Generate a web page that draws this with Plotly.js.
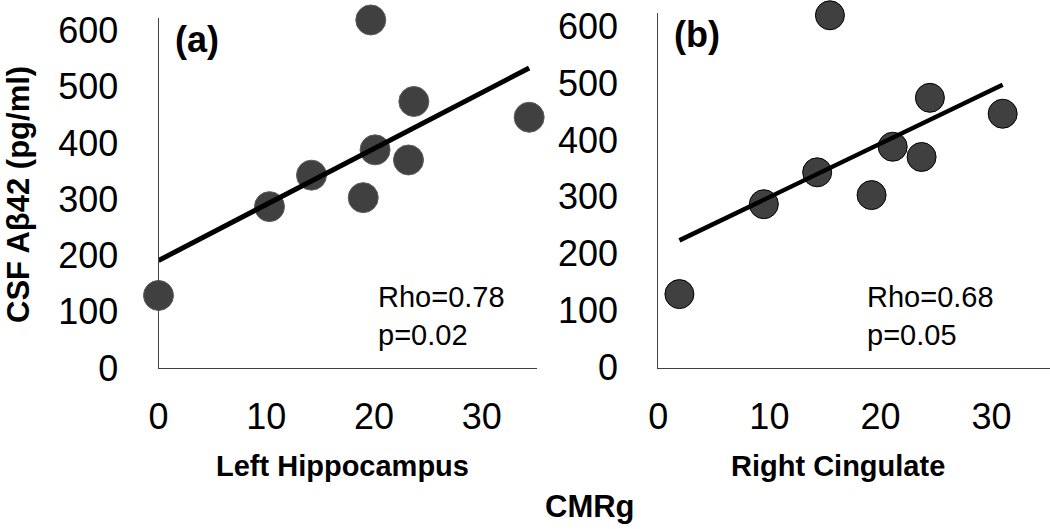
<!DOCTYPE html>
<html>
<head>
<meta charset="utf-8">
<script src="https://cdn.plot.ly/plotly-3.0.1.min.js"></script>
<style>html,body{margin:0;padding:0;background:#fff;}#chart{width:1050px;height:529px;}</style>
</head>
<body>
<div id="chart"></div>
<script>
// Data
const csfAbeta42 = [129, 287, 343, 303, 619, 388, 370, 474, 446];
const leftHippocampus = [0, 10.3, 14.2, 19.0, 19.7, 20.1, 23.2, 23.7, 34.4];
const rightCingulate = [1.9, 9.5, 14.3, 19.2, 15.45, 21.1, 23.7, 24.45, 31.0];
const yTicks = [0, 100, 200, 300, 400, 500, 600];
const xTicks = [0, 10, 20, 30];
const panelLabels = ['(a)', '(b)'];
const statsA = ['Rho=0.78', 'p=0.02'];
const statsB = ['Rho=0.68', 'p=0.05'];
const xTitles = ['Left Hippocampus', 'Right Cingulate'];
const yTitle = 'CSF Aβ42 (pg/ml)';
const commonXTitle = 'CMRg';

// Least-squares trendline over the data range (as in the original spreadsheet chart)
function trend(xs, ys) {
  const n = xs.length;
  const mx = xs.reduce((a, b) => a + b, 0) / n;
  const my = ys.reduce((a, b) => a + b, 0) / n;
  let sxy = 0, sxx = 0;
  for (let i = 0; i < n; i++) { sxy += (xs[i] - mx) * (ys[i] - my); sxx += (xs[i] - mx) ** 2; }
  const b = sxy / sxx, a = my - b * mx;
  const x0 = Math.min(...xs), x1 = Math.max(...xs);
  return { x: [x0, x1], y: [a + b * x0, a + b * x1] };
}

const W = 1050, H = 529;
const px = v => v / W;
const py = v => 1 - v / H;
const FONT = 'Liberation Sans, Arial, sans-serif';

const tA = trend(leftHippocampus, csfAbeta42);
const tB = trend(rightCingulate, csfAbeta42);

const traces = [
  { type: 'scatter', mode: 'markers', x: leftHippocampus, y: csfAbeta42, xaxis: 'x', yaxis: 'y',
    cliponaxis: false,
    marker: { size: 30, color: '#404040', line: { color: '#5c5c5c', width: 1 } } },
  { type: 'scatter', mode: 'lines', x: tA.x, y: tA.y, xaxis: 'x', yaxis: 'y', cliponaxis: false,
    line: { color: '#000000', width: 5 } },
  { type: 'scatter', mode: 'markers', x: rightCingulate, y: csfAbeta42, xaxis: 'x2', yaxis: 'y2',
    cliponaxis: false,
    marker: { size: 29, color: '#404040', line: { color: '#000000', width: 1 } } },
  { type: 'scatter', mode: 'lines', x: tB.x, y: tB.y, xaxis: 'x2', yaxis: 'y2', cliponaxis: false,
    line: { color: '#000000', width: 4.5 } }
];

const xAxisBase = {
  tickvals: xTicks, ticktext: xTicks.map(String), ticks: '', showgrid: false, zeroline: false,
  showline: true, linecolor: '#404040', linewidth: 1,
  tickfont: { family: FONT, size: 36, color: '#000' }, ticklabelstandoff: 17, fixedrange: true
};
const yAxisBase = {
  tickvals: yTicks, ticktext: yTicks.map(String), ticks: '', showgrid: false, zeroline: false,
  showline: true, linecolor: '#404040', linewidth: 1,
  tickfont: { family: FONT, size: 36, color: '#000' }, ticklabelstandoff: 32, fixedrange: true
};

const layout = {
  width: W, height: H,
  margin: { l: 0, r: 0, t: 0, b: 0 },
  paper_bgcolor: '#ffffff', plot_bgcolor: '#ffffff',
  showlegend: false,
  xaxis: Object.assign({}, xAxisBase, { domain: [px(158.5), px(536.7)], range: [0, 35.1], anchor: 'y' }),
  yaxis: Object.assign({}, yAxisBase, { domain: [py(368), py(18.3)], range: [0, 622], anchor: 'x' }),
  xaxis2: Object.assign({}, xAxisBase, { domain: [px(658.3), 1], range: [0, 35.26], anchor: 'y2' }),
  yaxis2: Object.assign({}, yAxisBase, { domain: [py(367.5), py(13.3)], range: [0, 622.5], anchor: 'x2' }),
  annotations: [
    { xref: 'paper', yref: 'paper', x: px(197), y: py(39), xanchor: 'center', yanchor: 'middle', showarrow: false,
      text: '<b>' + panelLabels[0] + '</b>', font: { family: FONT, size: 36, color: '#000' } },
    { xref: 'paper', yref: 'paper', x: px(696.5), y: py(35), xanchor: 'center', yanchor: 'middle', showarrow: false,
      text: '<b>' + panelLabels[1] + '</b>', font: { family: FONT, size: 36, color: '#000' } },
    { xref: 'paper', yref: 'paper', x: px(376), y: py(316), xanchor: 'left', yanchor: 'middle', align: 'left', showarrow: false,
      text: statsA.join('<br>'), font: { family: FONT, size: 29, color: '#000' } },
    { xref: 'paper', yref: 'paper', x: px(864.5), y: py(316), xanchor: 'left', yanchor: 'middle', align: 'left', showarrow: false,
      text: statsB.join('<br>'), font: { family: FONT, size: 29, color: '#000' } },
    { xref: 'paper', yref: 'paper', x: px(342), y: py(466), xanchor: 'center', yanchor: 'middle', showarrow: false,
      text: '<b>' + xTitles[0] + '</b>', font: { family: FONT, size: 29, color: '#000' } },
    { xref: 'paper', yref: 'paper', x: px(837.5), y: py(466), xanchor: 'center', yanchor: 'middle', showarrow: false,
      text: '<b>' + xTitles[1] + '</b>', font: { family: FONT, size: 29, color: '#000' } },
    { xref: 'paper', yref: 'paper', x: px(590), y: py(506), xanchor: 'center', yanchor: 'middle', showarrow: false,
      text: '<b>' + commonXTitle + '</b>', font: { family: FONT, size: 31, color: '#000' } },
    { xref: 'paper', yref: 'paper', x: px(19), y: py(195), xanchor: 'center', yanchor: 'middle', showarrow: false,
      textangle: -90, text: '<b>' + yTitle + '</b>', font: { family: FONT, size: 31, color: '#000' } }
  ]
};

Plotly.newPlot('chart', traces, layout, { displayModeBar: false, staticPlot: true });
</script>
</body>
</html>
